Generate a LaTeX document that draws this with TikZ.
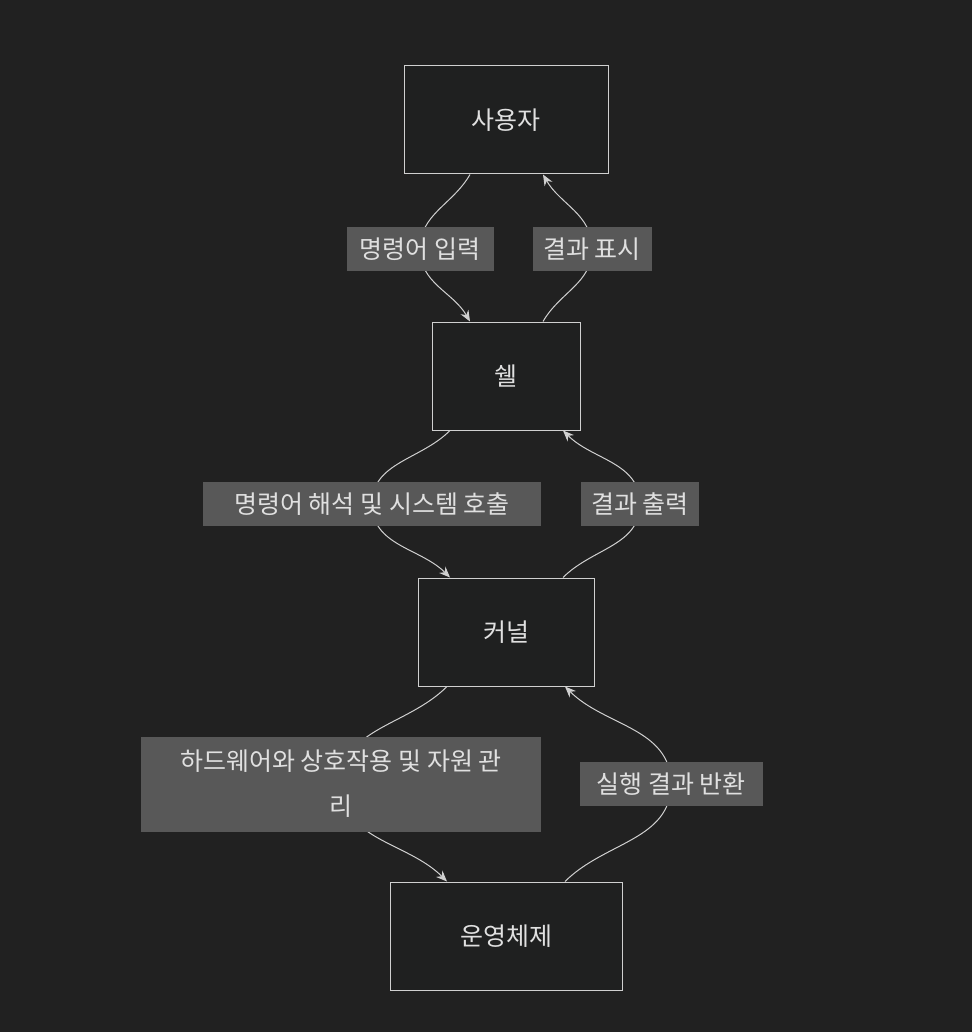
\documentclass[tikz,border=0pt]{standalone}
\usepackage{fontspec}
\setmainfont{Noto Sans CJK KR}
\usetikzlibrary{arrows.meta}
\definecolor{bg}{HTML}{212121}
\definecolor{nodefill}{HTML}{1F2020}
\definecolor{edgec}{HTML}{D0D0D0}
\definecolor{lblbg}{HTML}{585858}
\definecolor{txt}{HTML}{E0E0E0}
\begin{document}
\begin{tikzpicture}[x=1pt,y=-1pt,
  box/.style={draw=edgec,line width=1pt,fill=nodefill,text=txt,font=\fontsize{25}{30}\selectfont,minimum height=108pt,inner sep=0pt},
  lbl/.style={fill=lblbg,text=txt,font=\fontsize{25}{45}\selectfont,inner sep=0pt,minimum height=44pt,align=center},
  conn/.style={draw=edgec,line width=1pt,-{Stealth[length=11pt,width=9pt]}}]
\fill[bg] (0,0) rectangle (972,1032);
\useasboundingbox (0,0) rectangle (972,1032);
\node[box,minimum width=204pt] (u) at (506,120) {사용자};
\node[box,minimum width=148pt] (s) at (506,376) {쉘};
\node[box,minimum width=176pt] (k) at (506,632) {커널};
\node[box,minimum width=232pt] (o) at (506,936) {운영체제};
\coordinate (l1) at (420,249);
\coordinate (l2) at (592,249);
\coordinate (l3) at (372,504);
\coordinate (l4) at (640,504);
\coordinate (l5) at (341,784);
\coordinate (l6) at (671,784);
\draw[conn] (u.south -| 470,0) to[out=-120,in=90] (l1) to[out=-90,in=120] (s.north -| 470,0);
\draw[conn] (s.north -| 543,0) to[out=60,in=-90] (l2) to[out=90,in=-60] (u.south -| 543,0);
\draw[conn] (s.south -| 450,0) to[out=-135,in=90] (l3) to[out=-90,in=135] (k.north -| 450,0);
\draw[conn] (k.north -| 563,0) to[out=45,in=-90] (l4) to[out=90,in=-45] (s.south -| 563,0);
\draw[conn] (k.south -| 447,0) to[out=-135,in=90] (l5) to[out=-90,in=135] (o.north -| 447,0);
\draw[conn] (o.north -| 565,0) to[out=45,in=-90] (l6) to[out=90,in=-45] (k.south -| 565,0);
\node[lbl,minimum width=147pt] (t1) at (l1) {명령어 입력};
\node[lbl,minimum width=119pt] (t2) at (l2) {결과 표시};
\node[lbl,minimum width=338pt] (t3) at (l3) {명령어 해석 및 시스템 호출};
\node[lbl,minimum width=118pt] (t4) at (l4) {결과 출력};
\node[lbl,minimum width=400pt,minimum height=95pt] (t5) at (l5) {하드웨어와 상호작용 및 자원 관\\리};
\node[lbl,minimum width=183pt] (t6) at (l6) {실행 결과 반환};
\end{tikzpicture}
\end{document}
